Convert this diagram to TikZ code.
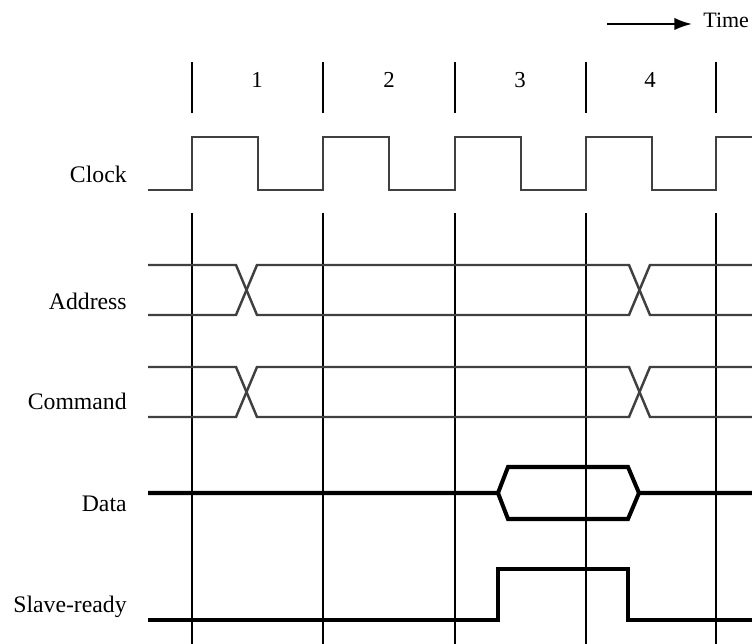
\documentclass[tikz,border=0pt]{standalone}
\usepackage{fontspec}
\setmainfont{Liberation Serif}
\usetikzlibrary{arrows.meta}

\def \thinLine {1.4pt}
\def \gridLine {0.9pt}
\def \thickLine {2.3pt}

\tikzset{
  signal/.style={line width=\thinLine, black!75, line join=miter},
  strong/.style={line width=\thickLine, black, line join=miter},
  grid/.style={line width=\gridLine, black},
  sigLabel/.style={anchor=base east, inner sep=0pt, font=\fontsize{13.5}{15}\selectfont},
  cycleNo/.style={anchor=base, inner sep=0pt, font=\fontsize{13}{15}\selectfont}
}

\begin{document}
\begin{tikzpicture}[x=0.02cm, y=-0.02cm]
      \useasboundingbox (0,0) rectangle (752,644);
      % time arrow
      \coordinate (timeStart) at (607,24);
      \coordinate (timeEnd) at (692,24);
      \node[anchor=base west, inner sep=0pt, font=\fontsize{12.5}{14}\selectfont] (time) at (703,28) {Time};
      \draw[line width=1.2pt, -{Latex[length=10pt,width=7pt]}] (timeStart) -- (timeEnd);
      % cycle ticks and numbers
      \foreach \x in {192,323,455,586,716} {
         \draw[grid] (\x,62) -- (\x,113);
         \draw[grid] (\x,213) -- (\x,644);
      }
      \node[cycleNo] (c1) at (257,88) {1};
      \node[cycleNo] (c2) at (389,88) {2};
      \node[cycleNo] (c3) at (520,88) {3};
      \node[cycleNo] (c4) at (650,88) {4};
      % labels
      \node[sigLabel] (clock) at (127,183) {Clock};
      \node[sigLabel] (address) at (127,310) {Address};
      \node[sigLabel] (command) at (127,410) {Command};
      \node[sigLabel] (data) at (127,512) {Data};
      \node[sigLabel] (slave) at (127,613) {Slave-ready};
      % clock
      \pgfmathsetmacro{\hi}{137}
      \pgfmathsetmacro{\lo}{190}
      \draw[signal] (148,\lo) foreach \t in {192,323,455,586} {
         -- (\t,\lo) -- (\t,\hi) -- ({\t+66},\hi) -- ({\t+66},\lo) }
         -- (716,\lo) -- (716,\hi) -- (752,\hi);
      % address and command
      \foreach \yt/\yb in {265/315, 367/417} {
         \draw[signal] (148,\yt) -- (236,\yt) -- (257,\yb) -- (629,\yb) -- (650,\yt) -- (752,\yt);
         \draw[signal] (148,\yb) -- (236,\yb) -- (257,\yt) -- (629,\yt) -- (650,\yb) -- (752,\yb);
      }
      % data
      \draw[strong] (148,493) -- (498,493) -- (508,467) -- (628,467) -- (639,493) -- (752,493);
      \draw[strong] (498,493) -- (508,519) -- (628,519) -- (639,493);
      % slave-ready
      \draw[strong] (148,620) -- (498,620) -- (498,569) -- (628,569) -- (628,620) -- (752,620);
   \end{tikzpicture}
\end{document}
